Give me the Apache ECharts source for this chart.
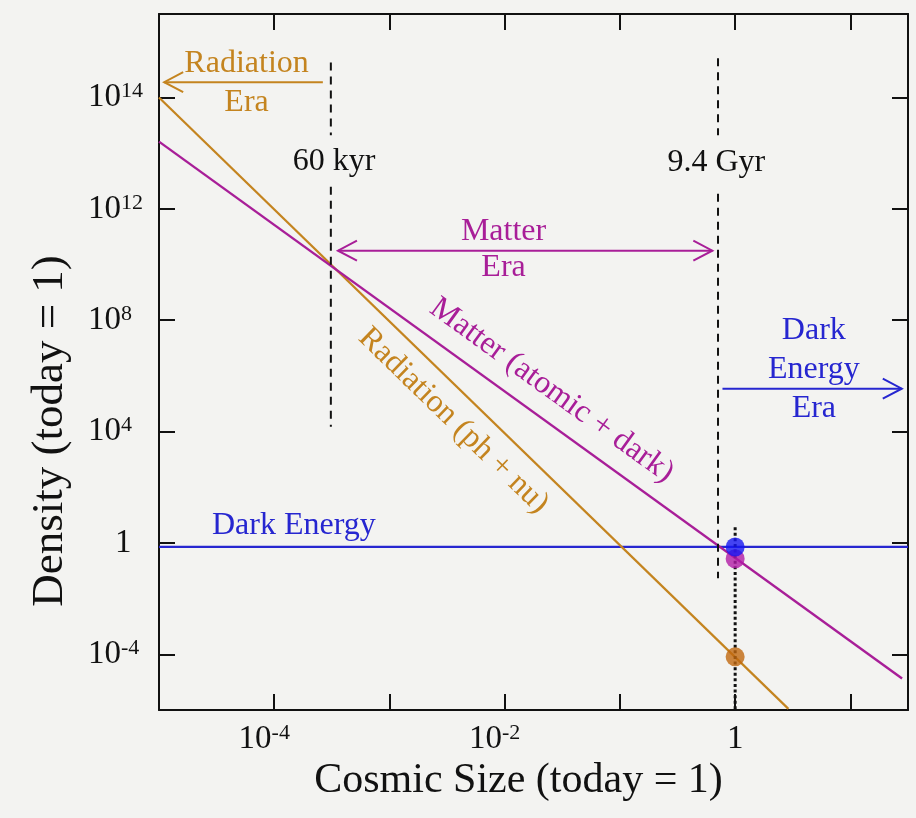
<!DOCTYPE html>
<html><head><meta charset="utf-8">
<script src="https://cdn.jsdelivr.net/npm/echarts@6/dist/echarts.min.js"></script>
<style>html,body{margin:0;padding:0;background:#f3f3f1}#c{width:916px;height:818px}</style>
</head><body><div id="c"></div>
<script>
// ---------- values ----------
const radiationA   = [1e-5, 2.9];
const radiationRho = [1e16, 1.1e-6];
const matterA      = [1e-5, 28.1];
const matterRho    = [2.6e14, 1.35e-5];
const darkEnergyA  = [1e-5, 31.6];
const darkEnergyRho= [0.72, 0.72];
const todayA       = [1, 1, 1];
const todayRho     = [8.1e-5, 0.27, 0.72];   // radiation, matter, dark energy
const eraA         = [3.1e-4, 0.71];          // 60 kyr, 9.4 Gyr
const kyrRho       = [[1.8e17, 4.4e14], [6.3e12, 1.5e4]];
const gyrRho       = [[2.6e17, 4.4e14], [3.5e12, 0.054]];
const todayLineRho = [3.7, 1e-6];
const xTickExps    = [-4, -3, -2, -1, 0, 1];
const xLabelExps   = [-4, -2, 0];
const xTickLabels  = ['10^-4', '10^-2', '1'];
const yTickExps    = [-4, 0, 4, 8, 12, 16];
const yTickLabels  = ['10^-4', '1', '10^4', '10^8', '10^12', '10^14'];

// ---------- styling ----------
const FONT = '"Liberation Serif", "Times New Roman", serif';
const ORANGE = '#c4841f', ORANGE_DOT = '#c0680f';
const MAGENTA = '#a81e98', MAGENTA_DOT = '#b21aa6';
const BLUE = '#2626d0', BLUE_DOT = '#1616f2';
const INK = '#111';
const L = Math.log10;
const pts = (xs, ys) => xs.map((x, i) => [L(x), L(ys[i])]);

function richLabel(str, extraRight) {
  if (str.indexOf('^') < 0) return '{one|' + str + '}';
  const [b, s] = str.split('^');
  return '{b|' + b + '}{' + (extraRight ? 'sx' : 's') + '|' + s + '}';
}
const supStyle = {fontSize: 22, lineHeight: 22, fontFamily: FONT, color: INK, verticalAlign: 'top'};
const baseStyle = {fontSize: 33, lineHeight: 34, fontFamily: FONT, color: INK};

const chart = echarts.init(document.getElementById('c'));
const axisCommon = {
  type: 'value',
  axisLine: {show: true, onZero: false, lineStyle: {color: INK, width: 2}},
  axisTick: {show: true, inside: true, length: 16, lineStyle: {color: INK, width: 2}},
  splitLine: {show: false}
};

function lineSeries(data, color, width, type, z) {
  return {type: 'line', data: data, symbol: 'none', silent: true, z: z || 2,
    lineStyle: {color: color, width: width, type: type || 'solid', cap: 'butt'}};
}

const series = [
  lineSeries(pts(darkEnergyA, darkEnergyRho), BLUE, 2.2),
  lineSeries(pts(radiationA, radiationRho), ORANGE, 2.2),
  lineSeries(pts(matterA, matterRho), MAGENTA, 2.4),
  lineSeries([[L(eraA[0]), L(kyrRho[0][0])], [L(eraA[0]), L(kyrRho[0][1])]], INK, 2, [8, 6]),
  lineSeries([[L(eraA[0]), L(kyrRho[1][0])], [L(eraA[0]), L(kyrRho[1][1])]], INK, 2, [8, 6]),
  lineSeries([[L(eraA[1]), L(gyrRho[0][0])], [L(eraA[1]), L(gyrRho[0][1])]], INK, 2, [8, 6]),
  lineSeries([[L(eraA[1]), L(gyrRho[1][0])], [L(eraA[1]), L(gyrRho[1][1])]], INK, 2, [8, 6]),
  lineSeries([[L(todayA[0]), L(todayLineRho[0])], [L(todayA[0]), L(todayLineRho[1])]], INK, 3, [3, 2.6]),
  {type: 'scatter', symbol: 'circle', symbolSize: 19, silent: true, z: 5,
   data: todayA.map((a, i) => ({value: [L(a), L(todayRho[i])],
     itemStyle: {color: [ORANGE_DOT, MAGENTA_DOT, BLUE_DOT][i]}}))}
];

chart.setOption({
  animation: false,
  backgroundColor: '#f3f3f1',
  grid: {left: 159, right: 8, top: 14, bottom: 108, containLabel: false, outerBoundsMode: 'none'},
  xAxis: [
    Object.assign({}, axisCommon, {
      position: 'bottom', min: -5, max: 1.5,
      axisTick: Object.assign({}, axisCommon.axisTick, {customValues: xTickExps}),
      axisLabel: {show: true, margin: 12, customValues: xLabelExps,
        formatter: v => richLabel(xTickLabels[xLabelExps.indexOf(Math.round(v))], true),
        rich: {b: baseStyle, s: supStyle, sx: Object.assign({}, supStyle, {padding: [0, 20, 0, 0]}),
               one: baseStyle}},
      name: 'Cosmic Size (today = 1)', nameLocation: 'middle', nameGap: 36,
      nameTextStyle: {fontSize: 42, fontFamily: FONT, color: INK, padding: [0, 30, 0, 0]}
    }),
    Object.assign({}, axisCommon, {
      position: 'top', min: -5, max: 1.5,
      axisTick: Object.assign({}, axisCommon.axisTick, {customValues: xTickExps}),
      axisLabel: {show: false}
    })
  ],
  yAxis: [
    Object.assign({}, axisCommon, {
      position: 'left', min: -6, max: 19,
      axisTick: Object.assign({}, axisCommon.axisTick, {customValues: yTickExps}),
      axisLabel: {show: true, margin: 71, align: 'left', customValues: yTickExps,
        formatter: v => richLabel(yTickLabels[yTickExps.indexOf(Math.round(v))], false),
        rich: {b: baseStyle, s: supStyle, one: Object.assign({}, baseStyle, {padding: [0, 0, 0, 27]})}},
      name: 'Density (today = 1)', nameLocation: 'middle', nameGap: 86, nameRotate: 90,
      nameTextStyle: {fontSize: 45, fontFamily: FONT, color: INK, padding: [0, 138, 0, 0]}
    }),
    Object.assign({}, axisCommon, {
      position: 'right', min: -6, max: 19,
      axisTick: Object.assign({}, axisCommon.axisTick, {customValues: yTickExps}),
      axisLabel: {show: false}
    })
  ],
  series: series
});

// ---------- annotations placed through the axes ----------
const P = (xe, ye) => chart.convertToPixel({xAxisIndex: 0, yAxisIndex: 0}, [xe, ye]);
const g = [];
function text(str, at, color, opts) {
  const p = P(at[0], at[1]);
  g.push(Object.assign({type: 'text', x: p[0], y: p[1], z: 20, silent: true,
    style: {text: str, fill: color, fontSize: 32, fontFamily: FONT, align: 'center',
            verticalAlign: 'middle', lineHeight: (opts && opts.lh) || 32}},
    opts && opts.rotation !== undefined ? {rotation: opts.rotation} : {}));
}
function arrow(from, to, color, both) {
  const a = P(from[0], from[1]), b = P(to[0], to[1]);
  g.push({type: 'polyline', z: 20, silent: true, shape: {points: [a, b]},
          style: {stroke: color, lineWidth: 2, fill: null}});
  const head = (tip, dir) => g.push({type: 'polyline', z: 20, silent: true,
    shape: {points: [[tip[0] - dir * 19, tip[1] - 10], tip, [tip[0] - dir * 19, tip[1] + 10]]},
    style: {stroke: color, lineWidth: 2, fill: null}});
  head(b, b[0] > a[0] ? 1 : -1);
  if (both) head(a, a[0] > b[0] ? 1 : -1);
}
function slopeAngle(xs, ys) {
  const p0 = P(L(xs[0]), L(ys[0])), p1 = P(L(xs[1]), L(ys[1]));
  return -Math.atan2(p1[1] - p0[1], p1[0] - p0[0]);
}

text('Radiation\nEra', [-4.24, 16.53], ORANGE, {lh: 39});
arrow([-3.578, 16.55], [-4.955, 16.55], ORANGE, false);
text('60 kyr', [-3.48, 13.7], INK);
text('9.4 Gyr', [-0.163, 13.67], INK);
text('Matter\nEra', [-2.01, 10.53], MAGENTA, {lh: 36});
arrow([-3.447, 10.5], [-0.198, 10.5], MAGENTA, true);
text('Dark\nEnergy\nEra', [0.683, 6.23], BLUE, {lh: 39});
arrow([-0.11, 5.54], [1.446, 5.54], BLUE, false);
text('Dark Energy', [-3.83, 0.64], BLUE);
text('Matter (atomic + dark)', [-1.591, 5.48], MAGENTA, {rotation: slopeAngle(matterA, matterRho)});
text('Radiation (ph + nu)', [-2.445, 4.39], ORANGE, {rotation: slopeAngle(radiationA, radiationRho)});

chart.setOption({graphic: g});
</script></body></html>
